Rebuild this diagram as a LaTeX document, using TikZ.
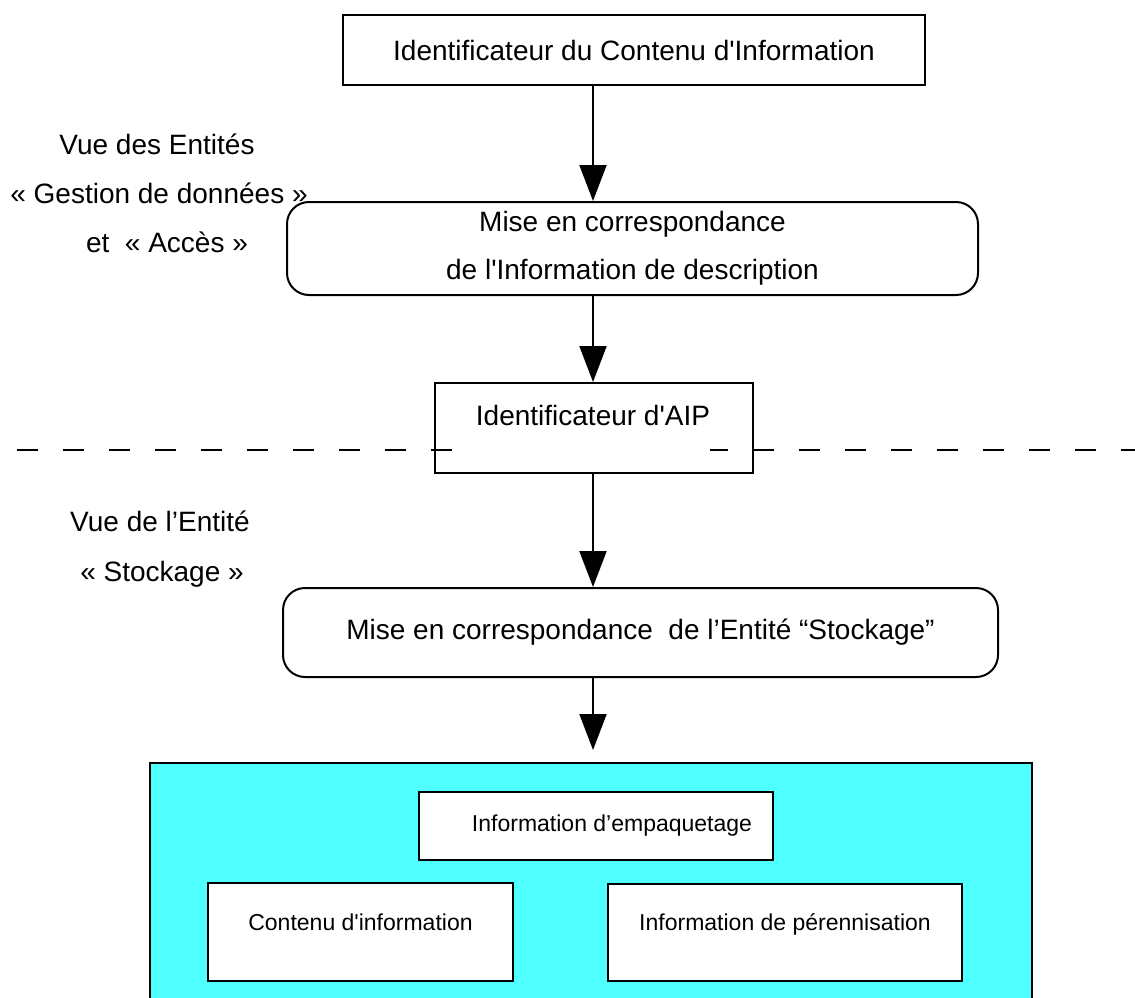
\documentclass[tikz,border=0pt]{standalone}
\usepackage{fontspec}
\setmainfont{Liberation Sans}
\usetikzlibrary{arrows.meta}
\definecolor{pkgcyan}{RGB}{80,255,255}
\newcommand{\ap}{\textquotesingle}
\tikzset{
  box/.style={draw, line width=2pt, inner sep=0pt, font=\fontsize{28}{34}\selectfont},
  roundbox/.style={box, rounded corners=22pt},
  smallbox/.style={draw, fill=white, line width=2pt, inner sep=0pt, font=\fontsize{23}{28}\selectfont},
  flow/.style={line width=2pt, -{Triangle[length=36pt,width=27pt]}},
  dashline/.style={line width=2pt, dash pattern=on 21pt off 25pt, dash phase=29pt},
  lbl/.style={inner sep=0pt, anchor=base, font=\fontsize{28}{34}\selectfont},
}

\begin{document}
\begin{tikzpicture}[x=1pt,y=-1pt]
    \useasboundingbox (0,0) rectangle (1135,998);
    % views on the left
    \node[lbl] (dmview) at (157,154) {Vue des Entités};
    \node[lbl] (dmname) at (159,203) {« Gestion de données »};
    \node[lbl] (acname) at (167,252) {et~ « Accès »};
    \node[lbl] (stview) at (160,531) {Vue de l’Entité};
    \node[lbl] (stname) at (162,581) {« Stockage »};
    % chain of identifiers
    \node[box, minimum width=582pt, minimum height=70pt] (cid) at (634,50) {Identificateur du Contenu d\ap Information};
    \node[roundbox, minimum width=691pt, minimum height=93pt, align=center, font=\fontsize{28}{48}\selectfont] (desc) at (632.5,248.5) {Mise en correspondance\\de l\ap Information de description};
    \node[box, minimum width=318pt, minimum height=90pt] (aip) at (594,428) {};
    \coordinate (dashL) at (0,450);
    \coordinate (dashR) at (1135,450);
    \draw[dashline] (dashL) -- (dashR);
    \node[lbl, fill=white, minimum width=229pt, text depth=28pt] (aiptxt) at (593,425) {Identificateur d\ap AIP};
    \node[roundbox, minimum width=715pt, minimum height=89pt] (stor) at (640.5,632.5) {Mise en correspondance~ de l’Entité “Stockage”};
    % the package
    \node[draw, fill=pkgcyan, line width=2pt, inner sep=0pt, minimum width=882pt, minimum height=247pt] (aippkg) at (591,886.5) {};
    \node[smallbox, minimum width=354pt, minimum height=68pt] (pack) at (596,826) {\hspace*{32pt}Information d’empaquetage};
    \node[smallbox, minimum width=305pt, minimum height=98pt, text depth=20pt] (content) at (360.5,932) {Contenu d\ap information};
    \node[smallbox, minimum width=354pt, minimum height=97pt, text depth=20pt] (pdi) at (785,932.5) {Information de pérennisation};
    % arrows
    \coordinate (axis) at (593,0);
    \coordinate (pkgtip) at (593,750);
    \draw[flow] (cid.south -| axis) -- (desc.north -| axis);
    \draw[flow] (desc.south -| axis) -- (aip.north -| axis);
    \draw[flow] (aip.south -| axis) -- (stor.north -| axis);
    \draw[flow] (stor.south -| axis) -- (pkgtip);
\end{tikzpicture}
\end{document}
